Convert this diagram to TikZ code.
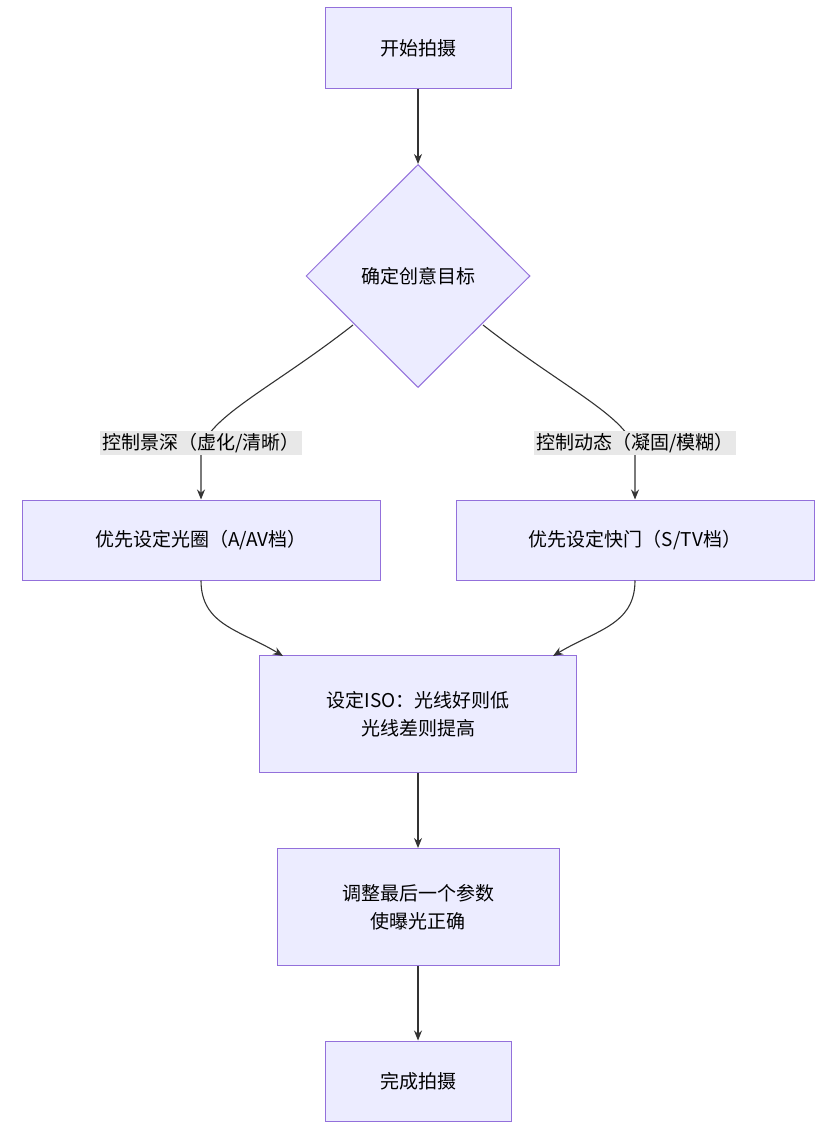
\documentclass[tikz,border=0pt]{standalone}
\usepackage{fontspec}
\newfontfamily\cjk{Noto Sans CJK SC}
\usetikzlibrary{shapes.geometric,arrows.meta}
\definecolor{nfill}{HTML}{ECECFF}
\definecolor{nstroke}{HTML}{9370DB}
\definecolor{lbg}{HTML}{E8E8E8}
\begin{document}
\begin{tikzpicture}[x=1pt,y=1pt,
  box/.style={draw=nstroke,fill=nfill,line width=1pt,font=\cjk\fontsize{19}{28}\selectfont,align=center,inner sep=0pt},
  lab/.style={fill=lbg,font=\cjk\fontsize{19}{24}\selectfont,inner sep=2pt},
  arr/.style={draw=black!80,line width=1.1pt,-{Stealth[length=10pt,width=8pt]}}]
\useasboundingbox (0,0) rectangle (838,-1140);
\node[box,minimum width=186pt,minimum height=80pt] (s) at (418,-48) {开始拍摄};
\node[box,diamond,minimum width=224pt,minimum height=223pt] (d) at (418,-276) {确定创意目标};
\node[box,minimum width=358pt,minimum height=80pt] (a) at (201,-540) {优先设定光圈（A/AV档）};
\node[box,minimum width=358pt,minimum height=80pt] (t) at (635,-540) {优先设定快门（S/TV档）};
\node[box,minimum width=317pt,minimum height=117pt] (i) at (418,-714) {设定ISO：光线好则低\\光线差则提高};
\node[box,minimum width=282pt,minimum height=117pt] (j) at (418,-907) {调整最后一个参数\\使曝光正确};
\node[box,minimum width=186pt,minimum height=80pt] (e) at (418,-1081) {完成拍摄};
\coordinate (dl) at (353,-325);
\coordinate (dr) at (483,-325);
\draw[arr] (s) -- (d);
\draw[arr] (dl) .. controls (270,-390) and (201,-420) .. (201,-455) -- (a.north);
\draw[arr] (dr) .. controls (566,-390) and (635,-420) .. (635,-455) -- (t.north);
\node[lab] (la) at (201,-443) {控制景深（虚化/清晰）};
\node[lab] (lt) at (635,-443) {控制动态（凝固/模糊）};
\coordinate (ia) at (283,-656);
\coordinate (it) at (553,-656);
\draw[arr] (a.south) .. controls (201,-625) and (240,-630) .. (ia);
\draw[arr] (t.south) .. controls (635,-625) and (596,-630) .. (it);
\draw[arr] (i) -- (j);
\draw[arr] (j) -- (e);
\end{tikzpicture}
\end{document}
